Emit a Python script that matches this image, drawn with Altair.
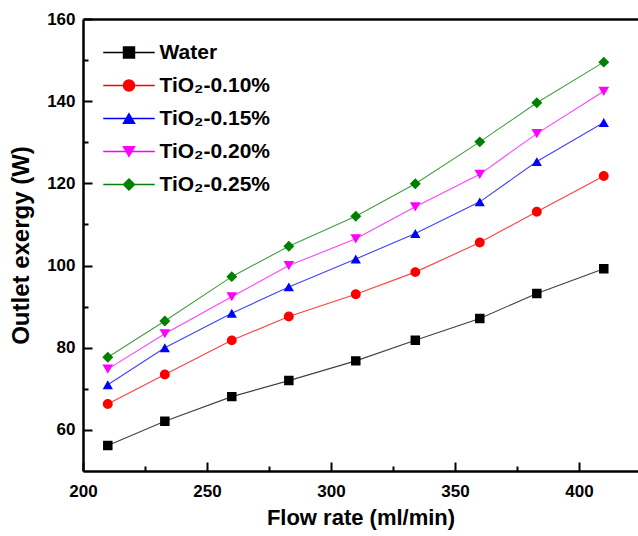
import altair as alt
import pandas as pd

# ---- data ----
flow = [210, 233, 260, 283, 310, 334, 360, 383, 410]
water = [56.2, 62.1, 68.1, 72.0, 76.8, 81.8, 87.1, 93.2, 99.2]
tio2_010 = [66.3, 73.5, 81.8, 87.6, 93.0, 98.4, 105.6, 113.1, 121.8]
tio2_015 = [71.0, 80.0, 88.4, 94.8, 101.6, 107.8, 115.5, 125.3, 134.8]
tio2_020 = [74.8, 83.4, 92.4, 100.0, 106.5, 114.3, 122.2, 132.1, 142.4]
tio2_025 = [77.7, 86.5, 97.3, 104.7, 112.0, 119.9, 130.1, 139.6, 149.5]

series_names = ["Water", "TiO\u2082-0.10%", "TiO\u2082-0.15%", "TiO\u2082-0.20%", "TiO\u2082-0.25%"]
colors = ["#000000", "#ff0000", "#0000ff", "#ff00ff", "#008000"]
sizes = [90, 120, 140, 140, 165]

x_major = [200, 250, 300, 350, 400]
x_minor = [225, 275, 325, 375]
y_major = [60, 80, 100, 120, 140, 160]
y_minor = [70, 90, 110, 130, 150]

# marker outlines (unit symbol coordinates) plus a legend line stroke
LEG_LINE = "M-4.7,0H4.7"
shapes = [
    "M-1,-1H1V1H-1Z" + LEG_LINE,
    "M1,0A1,1,0,1,1,-1,0A1,1,0,1,1,1,0Z" + LEG_LINE,
    "M0,-0.866L1,0.866L-1,0.866Z" + LEG_LINE,
    "M0,0.866L1,-0.866L-1,-0.866Z" + LEG_LINE,
    "M0,-1L1,0L0,1L-1,0Z" + LEG_LINE,
]

rows = []
for name, vals in zip(series_names, [water, tio2_010, tio2_015, tio2_020, tio2_025]):
    for f, v in zip(flow, vals):
        rows.append({"flow": f, "exergy": v, "series": name})
df = pd.DataFrame(rows)

W, H = 555, 452
FONT = "Liberation Sans"

xscale = alt.Scale(domain=[200, 423.8], nice=False, zero=False)
yscale = alt.Scale(domain=[50, 160], nice=False, zero=False)
color_scale = alt.Scale(domain=series_names, range=colors)
shape_scale = alt.Scale(domain=series_names, range=shapes)

base = alt.Chart(df)

lines = base.mark_line(strokeWidth=1.1, opacity=0.75).encode(
    x=alt.X("flow:Q", scale=xscale, axis=alt.Axis(
        orient="bottom", values=x_major, ticks=False, tickSize=0, grid=False,
        domainWidth=2.5, domainColor="black", labelColor="black", labelFlush=False,
        labelFont=FONT, labelFontSize=17, labelFontWeight="bold", labelPadding=12,
        title="Flow rate (ml/min)", titleFont=FONT, titleFontSize=22,
        titleFontWeight="bold", titleColor="black", titlePadding=8)),
    y=alt.Y("exergy:Q", scale=yscale, axis=alt.Axis(
        orient="left", values=y_major, ticks=False, tickSize=0, grid=False,
        domainWidth=2.5, domainColor="black", labelColor="black", labelFlush=False,
        labelFont=FONT, labelFontSize=17, labelFontWeight="bold", labelPadding=8,
        title="Outlet exergy (W)", titleFont=FONT, titleFontSize=24,
        titleFontWeight="bold", titleColor="black", titlePadding=13)),
    stroke=alt.Stroke("series:N", scale=color_scale, legend=None),
)

points = base.mark_point(filled=True, opacity=1, strokeWidth=0).encode(
    x=alt.X("flow:Q", scale=xscale, axis=alt.Axis(
        orient="top", offset=-H, values=x_major, tickSize=9, tickWidth=2,
        tickColor="black", labels=False, domain=False, grid=False, title=None)),
    y=alt.Y("exergy:Q", scale=yscale, axis=alt.Axis(
        orient="right", offset=-W, values=y_major, tickSize=9, tickWidth=2,
        tickColor="black", labels=False, domain=False, grid=False, title=None)),
    fill=alt.Fill("series:N", scale=color_scale, legend=None),
    shape=alt.Shape("series:N", scale=shape_scale, legend=None),
    size=alt.Size("series:O", scale=alt.Scale(domain=series_names, range=sizes), legend=None),
)

minor = base.mark_point(opacity=0).encode(
    x=alt.X("flow:Q", scale=xscale, axis=alt.Axis(
        orient="top", offset=-H, values=x_minor, tickSize=5, tickWidth=2,
        tickColor="black", labels=False, domain=False, grid=False, title=None)),
    y=alt.Y("exergy:Q", scale=yscale, axis=alt.Axis(
        orient="right", offset=-W, values=y_minor, tickSize=5, tickWidth=2,
        tickColor="black", labels=False, domain=False, grid=False, title=None)),
)

frame = base.mark_point(opacity=0).encode(
    x=alt.X("flow:Q", scale=xscale, axis=alt.Axis(
        orient="top", ticks=False, labels=False, domain=True, domainWidth=2.5,
        domainColor="black", grid=False, title=None)),
    y=alt.Y("exergy:Q", scale=yscale, axis=None),
)

legend = alt.Legend(
    orient="none", legendX=35.5, legendY=23, title=None, padding=0,
    labelFont=FONT, labelFontSize=21, labelFontWeight="bold", labelColor="black",
    labelOffset=20, rowPadding=11, labelLimit=300, symbolSize=120,
)

# layer with no rows: it only carries the legend (line through marker)
legend_layer = base.transform_filter("false").mark_point(
    filled=True, opacity=1, strokeWidth=1.1, strokeOpacity=0.8
).encode(
    x=alt.X("flow:Q", scale=xscale, axis=None),
    y=alt.Y("exergy:Q", scale=yscale, axis=None),
    fill=alt.Fill("series:N", scale=color_scale, legend=legend),
    stroke=alt.Stroke("series:N", scale=color_scale, legend=legend),
    shape=alt.Shape("series:N", scale=shape_scale, legend=legend),
)

chart = alt.layer(lines, points, minor, frame, legend_layer).resolve_axis(
    x="independent", y="independent"
).resolve_legend(
    fill="independent", stroke="independent", shape="independent", size="independent"
).properties(
    width=W, height=H,
    autosize=alt.AutoSizeParams(type="none"),
    padding={"left": 83, "top": 19, "right": 0, "bottom": 65},
    background="white",
).configure_view(stroke=None)

chart.save("out.html", embed_options={"renderer": "svg", "actions": False})
